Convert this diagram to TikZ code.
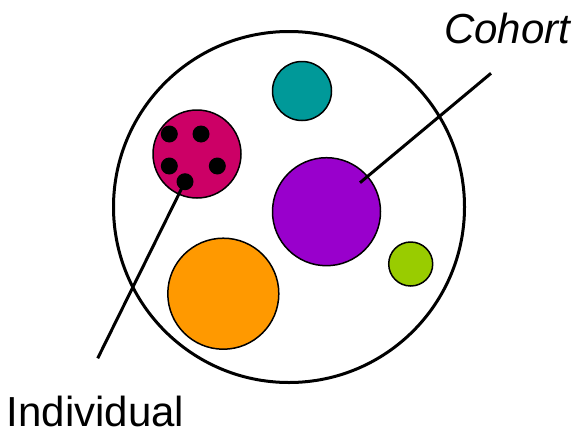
\documentclass[tikz,border=0pt]{standalone}
\usepackage{fontspec}
\setmainfont{Liberation Sans}
\usepackage{tikz}
\usetikzlibrary{positioning,calc}
\usepackage{xcolor}
\definecolor{cohteal}{RGB}{0,153,153}
\definecolor{cohmagenta}{RGB}{204,0,102}
\definecolor{cohpurple}{RGB}{153,0,204}
\definecolor{cohgreen}{RGB}{153,204,0}
\definecolor{cohorange}{RGB}{255,153,0}

\tikzset{
  blob/.style={circle, draw=black, line width=1.5pt, inner sep=0pt},
  member/.style={circle, fill=black, inner sep=0pt, minimum size=17pt},
  pointer/.style={draw=black, line width=3pt},
  caption/.style={inner sep=0pt, anchor=base west, text depth=0pt, font=\fontsize{42}{50}\selectfont}
}

\begin{document}
\begin{tikzpicture}[x=1pt, y=-1pt]
\useasboundingbox (0,0) rectangle (577,431);

% the cohort
\node[circle, draw=black, line width=3pt, inner sep=0pt, minimum size=351pt] (cohort) at (289,207) {};

% groups inside
\node[blob, fill=cohteal, minimum size=59pt] (teal) at (302,91) {};
\node[blob, fill=cohmagenta, minimum size=88pt] (family) at (197,154) {};
\node[blob, fill=cohpurple, minimum size=108pt] (purple) at (326.5,211.7) {};
\node[blob, fill=cohgreen, minimum size=44pt] (green) at (410.7,264) {};
\node[blob, fill=cohorange, minimum size=111pt] (orange) at (223.3,293.7) {};

% individuals
\node[member] (dota) at (169.3,134) {};
\node[member] (dotb) at (201,134) {};
\node[member] (dotc) at (169.3,166) {};
\node[member] (dotd) at (217.3,166) {};
\node[member] (dote) at (185,181.7) {};

% labels
\node[caption, font=\fontsize{42}{50}\selectfont\itshape] (cohortlbl) at (444,43.3) {Cohort};
\node[caption] (indivlbl) at (6.5,426.5) {Individual};

\coordinate (cohortin) at (360,182.7);
\coordinate (cohortout) at (491,73.3);
\coordinate (indivout) at (97.7,358.3);

\draw[pointer] (cohortin) -- (cohortout);
\draw[pointer] (dote.center) -- (indivout);
\end{tikzpicture}
\end{document}
